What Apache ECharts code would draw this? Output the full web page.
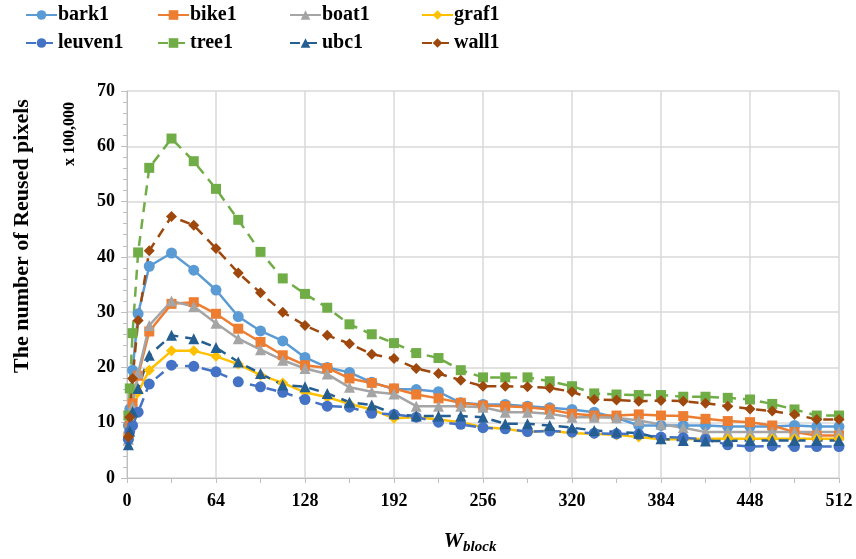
<!DOCTYPE html>
<html>
<head>
<meta charset="utf-8">
<script src="https://cdn.jsdelivr.net/npm/echarts@6/dist/echarts.min.js"></script>
<style>
  html, body { margin: 0; padding: 0; background: #fff; }
  #chart { width: 856px; height: 559px; }
</style>
</head>
<body>
<div id="chart"></div>
<script>
// block sizes
var wBlock = [1, 2, 4, 8, 16, 32, 48, 64, 80, 96, 112, 128, 144, 160, 176, 192, 208, 224, 240,
  256, 272, 288, 304, 320, 336, 352, 368, 384, 400, 416, 432, 448, 464, 480, 496, 512];

// reused pixels, x 100,000
var bark1 = [9.5, 12.5, 19.5, 29.7, 38.3, 40.7, 37.6, 34.0, 29.2, 26.6, 24.8, 21.8, 20.0, 19.1, 17.3, 16.1, 16.0, 15.6,
  13.6, 13.3, 13.3, 13.0, 12.7, 12.4, 11.9, 10.9, 9.5, 9.5, 9.5, 9.5, 9.3, 9.3, 9.3, 9.5, 9.3, 9.3];
var bike1 = [7.5, 9.5, 13.5, 18.5, 26.5, 31.5, 31.8, 29.7, 27.0, 24.6, 22.2, 20.4, 19.9, 18.0, 17.2, 16.2, 15.1, 14.4,
  13.6, 13.1, 13.0, 12.8, 12.4, 11.6, 11.3, 11.3, 11.5, 11.3, 11.2, 10.7, 10.3, 10.1, 9.5, 8.3, 7.7, 7.7];
var boat1 = [7.0, 9.0, 13.0, 19.0, 27.6, 32.0, 31.0, 28.0, 25.2, 23.2, 21.3, 19.8, 18.8, 16.4, 15.6, 15.2, 13.0, 13.0,
  13.0, 12.8, 11.9, 11.9, 11.6, 11.0, 11.0, 10.9, 10.4, 9.7, 9.1, 8.3, 8.3, 8.3, 8.3, 8.3, 8.3, 8.3];
var graf1 = [7.5, 9.0, 11.5, 15.5, 19.5, 23.0, 23.0, 22.0, 20.6, 18.6, 17.2, 15.5, 14.6, 13.4, 12.4, 10.8, 11.0, 10.6,
  10.1, 9.2, 8.9, 8.3, 8.6, 8.1, 8.0, 7.8, 7.4, 7.0, 7.0, 7.1, 7.1, 7.1, 7.1, 7.1, 7.1, 7.1];
var leuven1 = [7.0, 8.5, 9.5, 11.9, 17.0, 20.4, 20.2, 19.2, 17.4, 16.5, 15.5, 14.2, 13.0, 12.8, 11.7, 11.5, 11.0, 10.1,
  9.7, 9.1, 8.9, 8.4, 8.5, 8.3, 8.1, 8.0, 7.9, 7.4, 7.3, 7.0, 6.0, 5.7, 5.8, 5.7, 5.7, 5.7];
var tree1 = [11.3, 16.2, 26.2, 40.8, 56.1, 61.4, 57.3, 52.3, 46.7, 40.9, 36.1, 33.3, 30.8, 27.8, 26.0, 24.4, 22.6, 21.7,
  19.5, 18.2, 18.2, 18.2, 17.5, 16.6, 15.3, 15.1, 15.0, 15.0, 14.7, 14.7, 14.5, 14.2, 13.4, 12.4, 11.3, 11.3];
var ubc1 = [6.0, 8.5, 12.0, 16.2, 22.2, 25.8, 25.2, 23.6, 21.0, 18.9, 16.8, 16.5, 15.3, 13.7, 13.2, 11.6, 11.2, 11.2,
  11.2, 11.0, 9.8, 9.8, 9.5, 9.1, 8.6, 8.3, 8.1, 7.1, 6.8, 6.7, 6.7, 6.8, 6.8, 6.8, 6.8, 6.8];
var wall1 = [7.4, 11.0, 18.0, 28.5, 41.1, 47.3, 45.7, 41.5, 37.1, 33.5, 30.0, 27.6, 25.8, 24.3, 22.4, 21.6, 19.8, 18.9,
  17.7, 16.6, 16.6, 16.5, 16.3, 15.6, 14.2, 14.1, 13.9, 14.0, 13.9, 13.5, 13.0, 12.5, 12.1, 11.5, 10.6, 10.6];

var names = ['bark1', 'bike1', 'boat1', 'graf1', 'leuven1', 'tree1', 'ubc1', 'wall1'];
var values = [bark1, bike1, boat1, graf1, leuven1, tree1, ubc1, wall1];
var colors = ['#5B9BD5', '#ED7D31', '#A5A5A5', '#FFC000', '#4472C4', '#70AD47', '#255E91', '#9E480E'];
var symbols = ['circle', 'rect', 'triangle', 'diamond', 'circle', 'rect', 'triangle', 'diamond'];

var serif = '"Liberation Serif", "Times New Roman", serif';
var chart = echarts.init(document.getElementById('chart'));

var series = [];
var legends = [];
for (var i = 0; i < names.length; i++) {
  var pts = [];
  for (var j = 0; j < wBlock.length; j++) pts.push([wBlock[j], values[i][j]]);
  var dashed = i >= 4;
  series.push({
    name: names[i],
    type: 'line',
    data: pts,
    symbol: symbols[i],
    symbolSize: symbols[i] === 'rect' ? 10 : 11,
    showAllSymbol: true,
    lineStyle: { width: 2.5, type: dashed ? [10, 7] : 'solid', color: colors[i] },
    itemStyle: { color: colors[i] },
    emphasis: { disabled: true }
  });
  // one legend per item so the columns line up
  legends.push({
    data: [names[i]],
    left: 25 + (i % 4) * 132,
    top: i < 4 ? 5 : 33,
    padding: 0,
    itemWidth: 31,
    itemHeight: 12,
    itemGap: 0,
    textStyle: { fontFamily: serif, fontWeight: 'bold', fontSize: 20, color: '#000', padding: [0, 0, 0, -4] }
  });
}

var option = {
  animation: false,
  legend: legends,
  grid: { left: 127, right: 17, top: 91, bottom: 81 },
  xAxis: {
    type: 'value',
    min: 0,
    max: 512,
    interval: 64,
    axisLine: { lineStyle: { color: '#BFBFBF', width: 1 } },
    axisTick: { show: true, length: 5, lineStyle: { color: '#BFBFBF' } },
    minorTick: { show: true, splitNumber: 2, length: 5, lineStyle: { color: '#BFBFBF' } },
    axisLabel: { fontFamily: serif, fontWeight: 'bold', fontSize: 18, color: '#000', margin: 14 },
    splitLine: { show: true, lineStyle: { color: '#D9D9D9', width: 1.5 } }
  },
  yAxis: {
    type: 'value',
    min: 0,
    max: 70,
    interval: 10,
    axisLine: { show: true, lineStyle: { color: '#BFBFBF', width: 1 } },
    axisTick: { show: true, length: 6, lineStyle: { color: '#BFBFBF' } },
    minorTick: { show: true, splitNumber: 5, length: 4, lineStyle: { color: '#BFBFBF' } },
    axisLabel: { fontFamily: serif, fontWeight: 'bold', fontSize: 18, color: '#000', margin: 12 },
    splitLine: { show: true, lineStyle: { color: '#D9D9D9', width: 1.5 } }
  },
  graphic: [{
    type: 'text',
    x: 22,
    y: 236,
    rotation: Math.PI / 2,
    style: {
      text: 'The number of Reused pixels',
      fontFamily: serif,
      fontWeight: 'bold',
      fontSize: 22,
      fill: '#000',
      align: 'center',
      verticalAlign: 'middle'
    }
  }, {
    type: 'text',
    x: 70,
    y: 134,
    rotation: Math.PI / 2,
    style: {
      text: 'x 100,000',
      fontFamily: serif,
      fontWeight: 'bold',
      fontSize: 16,
      fill: '#000',
      align: 'center',
      verticalAlign: 'middle'
    }
  }, {
    type: 'text',
    x: 470,
    y: 541,
    style: {
      text: '{w|W}{s|block}',
      align: 'center',
      verticalAlign: 'middle',
      rich: {
        w: { fontFamily: serif, fontWeight: 'bold', fontStyle: 'italic', fontSize: 22, fill: '#000' },
        s: { fontFamily: serif, fontWeight: 'bold', fontStyle: 'italic', fontSize: 15, fill: '#000', padding: [12, 0, 0, 0] }
      }
    }
  }],
  series: series
};

chart.setOption(option);
</script>
</body>
</html>
